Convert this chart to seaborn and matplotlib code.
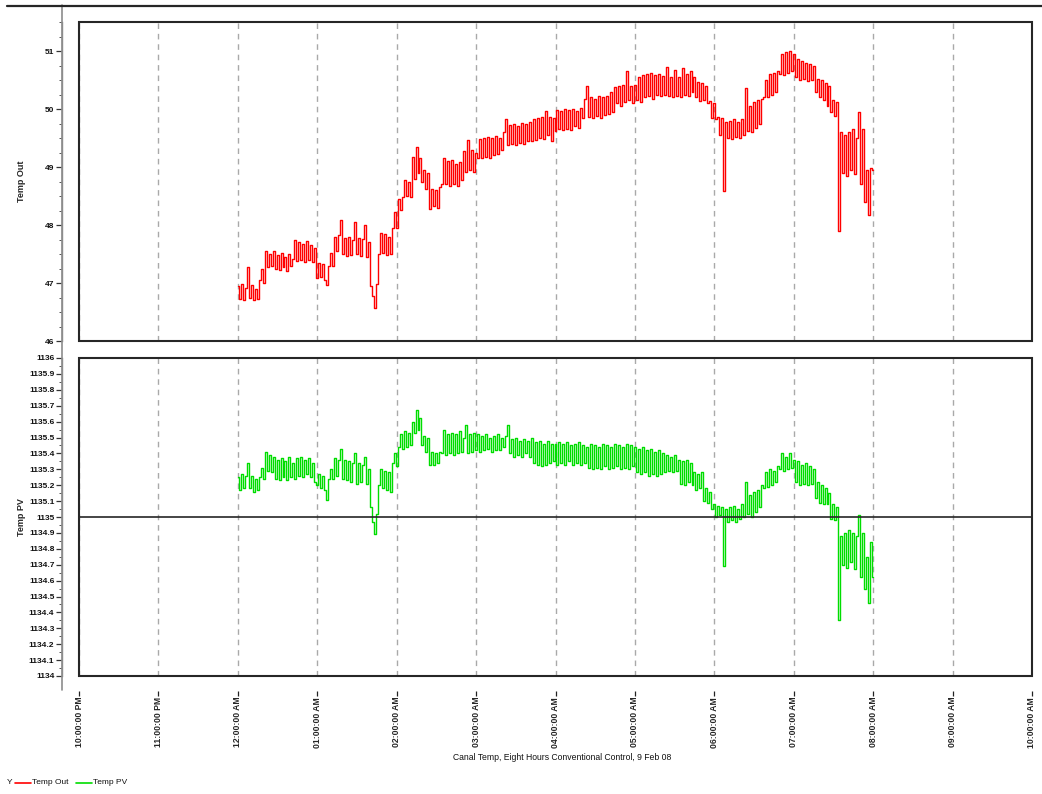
import numpy as np
import pandas as pd
import matplotlib
matplotlib.use("Agg")
import matplotlib.pyplot as plt
from matplotlib.lines import Line2D
from matplotlib.patches import Rectangle
from matplotlib.ticker import MultipleLocator, FixedLocator
import seaborn as sns

# Hour ticks relative to midnight, 10 PM to 10 AM
hour_ticks = list(range(-2, 11))
hour_labels = ["10:00:00 PM", "11:00:00 PM", "12:00:00 AM", "01:00:00 AM",
               "02:00:00 AM", "03:00:00 AM", "04:00:00 AM", "05:00:00 AM",
               "06:00:00 AM", "07:00:00 AM", "08:00:00 AM", "09:00:00 AM",
               "10:00:00 AM"]

# Logged samples every 1.5 minutes from 12:00 AM to 08:00 AM
sample_step_h = 0.025

temp_out = [
    # 12 AM
    46.95, 46.72, 46.98, 46.70, 46.92, 47.28, 46.75, 46.96, 46.70, 46.90,
    46.72, 47.05, 47.25, 47.00, 47.55, 47.28, 47.50, 47.30, 47.55, 47.25,
    47.48, 47.22, 47.52, 47.28, 47.45, 47.20, 47.50, 47.30, 47.42, 47.75,
    47.38, 47.70, 47.40, 47.68, 47.36, 47.72, 47.40, 47.65, 47.36, 47.60,
    # 01 AM
    47.08, 47.35, 47.10, 47.32, 47.06, 46.97, 47.30, 47.52, 47.30, 47.80,
    47.55, 47.82, 48.08, 47.50, 47.78, 47.46, 47.80, 47.48, 47.75, 48.05,
    47.50, 47.78, 47.46, 47.76, 48.00, 47.45, 47.70, 46.95, 46.78, 46.57,
    46.98, 47.50, 47.86, 47.52, 47.85, 47.48, 47.80, 47.50, 47.95, 48.22,
    # 02 AM
    47.95, 48.45, 48.26, 48.48, 48.78, 48.50, 48.75, 48.48, 49.18, 48.80,
    49.34, 48.90, 49.15, 48.75, 48.95, 48.62, 48.90, 48.27, 48.62, 48.32,
    48.60, 48.30, 48.65, 48.70, 49.15, 48.70, 49.10, 48.68, 49.12, 48.70,
    49.05, 48.68, 49.08, 48.78, 49.28, 48.92, 49.46, 48.95, 49.30, 48.92,
    # 03 AM
    49.25, 49.15, 49.48, 49.15, 49.50, 49.18, 49.52, 49.16, 49.50, 49.20,
    49.53, 49.22, 49.50, 49.30, 49.60, 49.82, 49.38, 49.72, 49.40, 49.75,
    49.38, 49.70, 49.42, 49.76, 49.40, 49.74, 49.45, 49.78, 49.44, 49.82,
    49.46, 49.85, 49.50, 49.86, 49.48, 49.97, 49.55, 49.86, 49.45, 49.85,
    # 04 AM
    49.62, 49.98, 49.65, 49.96, 49.64, 50.00, 49.66, 49.98, 49.63, 50.00,
    49.70, 49.97, 49.68, 50.02, 49.85, 50.18, 50.40, 49.86, 50.20, 49.84,
    50.18, 49.88, 50.22, 49.85, 50.20, 49.90, 50.23, 49.92, 50.30, 49.95,
    50.38, 50.10, 50.40, 50.05, 50.42, 50.12, 50.66, 50.15, 50.40, 50.10,
    # 05 AM
    50.42, 50.15, 50.55, 50.12, 50.58, 50.20, 50.60, 50.22, 50.62, 50.18,
    50.58, 50.25, 50.60, 50.22, 50.57, 50.25, 50.72, 50.22, 50.55, 50.20,
    50.68, 50.22, 50.56, 50.20, 50.70, 50.25, 50.60, 50.22, 50.66, 50.30,
    50.55, 50.20, 50.46, 50.14, 50.45, 50.15, 50.40, 50.10, 50.14, 49.85,
    # 06 AM
    50.10, 49.82, 49.86, 49.55, 49.85, 48.58, 49.78, 49.50, 49.80, 49.48,
    49.82, 49.52, 49.78, 49.50, 49.82, 49.55, 50.37, 49.62, 50.05, 49.60,
    50.12, 49.68, 50.15, 49.75, 50.18, 50.20, 50.50, 50.20, 50.60, 50.25,
    50.62, 50.30, 50.66, 50.60, 50.95, 50.58, 50.98, 50.62, 51.00, 50.65,
    # 07 AM
    50.95, 50.55, 50.86, 50.50, 50.82, 50.52, 50.80, 50.49, 50.78, 50.50,
    50.75, 50.30, 50.52, 50.20, 50.50, 50.15, 50.45, 50.05, 50.40, 49.95,
    50.15, 49.88, 50.12, 47.89, 49.60, 48.90, 49.55, 48.85, 49.60, 48.95,
    49.65, 48.88, 49.50, 49.94, 48.70, 49.65, 48.40, 48.95, 48.18, 48.98,
    # 08 AM
    48.95,
]

temp_pv = [
    # 12 AM
    1135.25, 1135.17, 1135.27, 1135.18, 1135.26, 1135.34, 1135.18, 1135.26, 1135.16, 1135.24,
    1135.17, 1135.25, 1135.31, 1135.24, 1135.41, 1135.29, 1135.39, 1135.28, 1135.38, 1135.24,
    1135.36, 1135.23, 1135.37, 1135.25, 1135.35, 1135.23, 1135.38, 1135.25, 1135.34, 1135.24,
    1135.37, 1135.26, 1135.38, 1135.25, 1135.36, 1135.27, 1135.37, 1135.25, 1135.34, 1135.22,
    # 01 AM
    1135.20, 1135.27, 1135.18, 1135.26, 1135.17, 1135.11, 1135.24, 1135.30, 1135.24, 1135.37,
    1135.26, 1135.36, 1135.43, 1135.24, 1135.36, 1135.23, 1135.35, 1135.22, 1135.34, 1135.40,
    1135.21, 1135.34, 1135.22, 1135.33, 1135.38, 1135.21, 1135.30, 1135.06, 1134.97, 1134.89,
    1135.02, 1135.20, 1135.30, 1135.18, 1135.29, 1135.17, 1135.28, 1135.16, 1135.34, 1135.40,
    # 02 AM
    1135.32, 1135.44, 1135.52, 1135.43, 1135.54, 1135.44, 1135.53, 1135.45, 1135.60, 1135.53,
    1135.67, 1135.55, 1135.62, 1135.45, 1135.51, 1135.41, 1135.50, 1135.33, 1135.41, 1135.33,
    1135.40, 1135.34, 1135.41, 1135.40, 1135.55, 1135.39, 1135.52, 1135.40, 1135.53, 1135.39,
    1135.52, 1135.40, 1135.54, 1135.41, 1135.50, 1135.58, 1135.40, 1135.52, 1135.41, 1135.53,
    # 03 AM
    1135.42, 1135.52, 1135.41, 1135.51, 1135.42, 1135.52, 1135.43, 1135.50, 1135.41, 1135.51,
    1135.42, 1135.52, 1135.42, 1135.50, 1135.44, 1135.51, 1135.58, 1135.40, 1135.49, 1135.38,
    1135.50, 1135.39, 1135.48, 1135.38, 1135.49, 1135.40, 1135.48, 1135.38, 1135.50, 1135.34,
    1135.47, 1135.33, 1135.48, 1135.32, 1135.46, 1135.33, 1135.48, 1135.34, 1135.46, 1135.35,
    # 04 AM
    1135.46, 1135.33, 1135.47, 1135.34, 1135.46, 1135.33, 1135.47, 1135.35, 1135.45, 1135.33,
    1135.46, 1135.34, 1135.47, 1135.33, 1135.45, 1135.34, 1135.44, 1135.31, 1135.46, 1135.30,
    1135.45, 1135.31, 1135.44, 1135.30, 1135.46, 1135.32, 1135.45, 1135.30, 1135.44, 1135.31,
    1135.46, 1135.32, 1135.45, 1135.30, 1135.44, 1135.31, 1135.46, 1135.30, 1135.45, 1135.32,
    # 05 AM
    1135.44, 1135.28, 1135.43, 1135.27, 1135.44, 1135.28, 1135.42, 1135.26, 1135.43, 1135.27,
    1135.41, 1135.26, 1135.42, 1135.27, 1135.40, 1135.28, 1135.39, 1135.29, 1135.38, 1135.28,
    1135.39, 1135.29, 1135.36, 1135.21, 1135.35, 1135.20, 1135.36, 1135.22, 1135.34, 1135.20,
    1135.28, 1135.17, 1135.27, 1135.18, 1135.28, 1135.10, 1135.18, 1135.09, 1135.16, 1135.05,
    # 06 AM
    1135.08, 1135.00, 1135.07, 1135.01, 1135.06, 1134.69, 1135.05, 1134.97, 1135.06, 1134.98,
    1135.07, 1134.97, 1135.05, 1134.99, 1135.08, 1135.00, 1135.22, 1135.02, 1135.14, 1135.00,
    1135.16, 1135.03, 1135.17, 1135.06, 1135.20, 1135.18, 1135.28, 1135.19, 1135.30, 1135.20,
    1135.29, 1135.22, 1135.32, 1135.30, 1135.40, 1135.29, 1135.38, 1135.30, 1135.40, 1135.31,
    # 07 AM
    1135.36, 1135.22, 1135.35, 1135.20, 1135.33, 1135.21, 1135.34, 1135.20, 1135.32, 1135.21,
    1135.30, 1135.12, 1135.22, 1135.09, 1135.20, 1135.08, 1135.18, 1135.08, 1135.15, 1134.99,
    1135.08, 1134.98, 1135.06, 1134.35, 1134.88, 1134.70, 1134.90, 1134.68, 1134.92, 1134.72,
    1134.90, 1134.67, 1134.88, 1135.01, 1134.62, 1134.90, 1134.55, 1134.75, 1134.46, 1134.84,
    # 08 AM
    1134.62,
]

pv_setpoint = 1135.0
title_text = "Canal Temp, Eight Hours Conventional Control, 9 Feb 08"

hours = np.round(np.arange(len(temp_out)) * sample_step_h, 3)
df = pd.DataFrame({"hour": hours, "Temp Out": temp_out, "Temp PV": temp_pv})

sns.set_style("white")
plt.rcParams["font.family"] = ["Liberation Sans", "DejaVu Sans"]

W, H = 1042, 794
fig = plt.figure(figsize=(W / 100, H / 100), dpi=100)


def fx(px):
    return px / W


def fy(py):
    return 1 - py / H


left, right = 79, 1032
ax1 = fig.add_axes([fx(left), fy(341), fx(right - left), (341 - 22) / H])
ax2 = fig.add_axes([fx(left), fy(676), fx(right - left), (676 - 358) / H])

red = "#ff0000"
green = "#00dd00"
grid_c = "#a9a9a9"
frame_c = "#262626"

sns.lineplot(data=df, x="hour", y="Temp Out", ax=ax1, color=red, lw=1.0,
             drawstyle="steps-mid", estimator=None, sort=False, legend=False)
sns.lineplot(data=df, x="hour", y="Temp PV", ax=ax2, color=green, lw=1.0,
             drawstyle="steps-mid", estimator=None, sort=False, legend=False)
ax2.axhline(pv_setpoint, color=frame_c, lw=1.2, zorder=4)

for ax in (ax1, ax2):
    ax.set_xlim(hour_ticks[0], hour_ticks[-1])
    ax.set_xticks(hour_ticks)
    ax.grid(axis="x", color=grid_c, lw=1.0, ls=(0, (4, 3.5)))
    ax.grid(axis="y", visible=False)
    for s in ("top", "right", "bottom"):
        ax.spines[s].set_visible(False)
    ax.spines["left"].set_position(("outward", 12.2))
    ax.spines["left"].set_color("#8c8c8c")
    ax.spines["left"].set_linewidth(1.0)
    ax.add_patch(Rectangle((0, 0), 1, 1, transform=ax.transAxes, fill=False,
                           ec=frame_c, lw=1.5, clip_on=False, zorder=6))
    ax.tick_params(axis="y", which="major", direction="out", length=4,
                   width=0.9, color="#333333", labelsize=6, pad=1.5,
                   left=True, labelcolor="#111111")
    ax.tick_params(axis="y", which="minor", direction="out", length=2,
                   width=0.7, color="#555555", left=True)
    ax.set_xlabel("")

# Upper panel: outlet temperature
ax1.set_ylim(46, 51.5)
ax1.yaxis.set_major_locator(FixedLocator([46, 47, 48, 49, 50, 51]))
ax1.yaxis.set_minor_locator(MultipleLocator(0.25))
ax1.tick_params(axis="x", bottom=False, labelbottom=False)
ax1.set_ylabel("Temp Out", fontsize=6.5, fontweight="bold")

# Lower panel: process value
ax2.set_ylim(1134, 1136)
ax2.yaxis.set_major_locator(MultipleLocator(0.1))
ax2.yaxis.set_minor_locator(MultipleLocator(0.05))
ax2.yaxis.set_major_formatter(lambda v, pos: f"{v:g}")
ax2.set_ylabel("Temp PV", fontsize=6.5, fontweight="bold")
ax2.spines["bottom"].set_position(("outward", 10.5))
ax2.set_xticklabels(hour_labels, rotation=90, fontsize=6.2, fontweight="bold",
                    va="top", ha="center")
ax2.tick_params(axis="x", direction="out", length=3.5, width=0.9,
                color="#222222", pad=1, bottom=True)

# Short inward ticks along the bottom edge of the lower frame
sec = ax2.secondary_xaxis(0)
sec.set_xticks(hour_ticks)
sec.tick_params(axis="x", direction="in", length=2.5, width=0.7,
                color="#777777", labelbottom=False)
sec.spines["bottom"].set_visible(False)

for ax in (ax1, ax2):
    for lab in ax.get_yticklabels():
        lab.set_fontweight("bold")
    ax.yaxis.set_label_coords((26 - left) / (right - left), 0.5)

# Shared axis rule and top border
fig.add_artist(Line2D([fx(62), fx(62)], [fy(5), fy(690)], transform=fig.transFigure,
                      color="#8c8c8c", lw=1.2))
fig.add_artist(Line2D([fx(7), 1.0], [fy(5.5), fy(5.5)], transform=fig.transFigure,
                      color=frame_c, lw=1.6))

fig.text(fx(562), fy(757), title_text, ha="center", va="center", fontsize=6.2,
         color="#111111")

# Series key
ky = fy(783)
fig.text(fx(7), ky, "Y", fontsize=6, va="center", ha="left", color="#111111")
fig.add_artist(Line2D([fx(15), fx(31)], [ky, ky], transform=fig.transFigure,
                      color=red, lw=1.2))
fig.text(fx(32), ky, "Temp Out", fontsize=6, va="center", ha="left", color="#111111")
fig.add_artist(Line2D([fx(76), fx(92)], [ky, ky], transform=fig.transFigure,
                      color=green, lw=1.2))
fig.text(fx(93), ky, "Temp PV", fontsize=6, va="center", ha="left", color="#111111")

fig.savefig("out.png", dpi=100, facecolor="white")
